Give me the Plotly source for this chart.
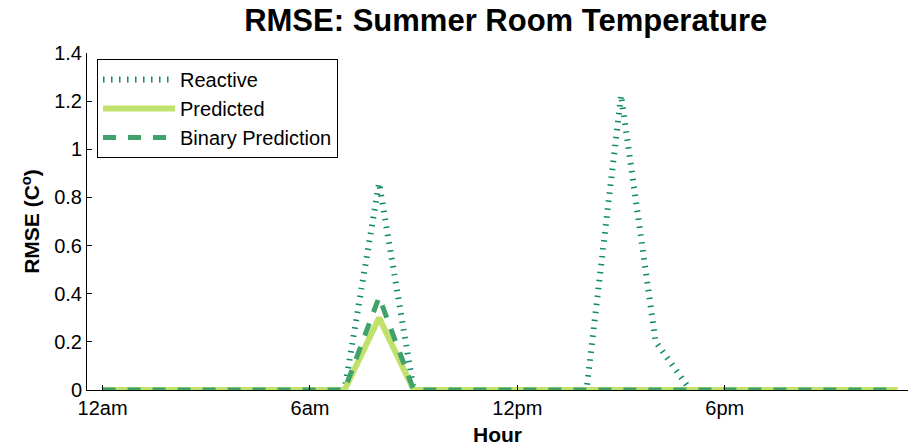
import plotly.graph_objects as go

hours = list(range(24))
tick_vals = [0, 6, 12, 18]
tick_text = ["12am", "6am", "12pm", "6pm"]

reactive = [0, 0, 0, 0, 0, 0, 0, 0, 0.86, 0, 0, 0, 0, 0, 0, 1.225, 0.20, 0, 0, 0, 0, 0, 0, 0]
predicted = [0, 0, 0, 0, 0, 0, 0, 0, 0.30, 0, 0, 0, 0, 0, 0, 0, 0, 0, 0, 0, 0, 0, 0, 0]
binary = [0, 0, 0, 0, 0, 0, 0, 0, 0.386, 0, 0, 0, 0, 0, 0, 0, 0, 0, 0, 0, 0, 0, 0, 0]

FONT = "Liberation Sans, Arial, Helvetica, sans-serif"

fig = go.Figure()
fig.add_trace(go.Scatter(x=hours, y=reactive, mode="lines", name="Reactive",
                         line=dict(color="#0f8a68", width=6, dash="1.5px,6.5px")))
fig.add_trace(go.Scatter(x=hours, y=predicted, mode="lines", name="Predicted",
                         line=dict(color="#c0e16b", width=6)))
fig.add_trace(go.Scatter(x=hours, y=binary, mode="lines", name="Binary Prediction",
                         line=dict(color="#3fa26a", width=5, dash="13px,12px")))

fig.update_layout(
    width=908, height=446,
    margin=dict(l=87, r=0, t=53, b=56),
    paper_bgcolor="white", plot_bgcolor="white",
    font=dict(family=FONT, size=20, color="black"),
    title=dict(text="<b>RMSE: Summer Room Temperature</b>", x=0.51, xref="paper",
               y=0.955, yref="container", yanchor="middle",
               font=dict(size=31, family=FONT, color="black")),
    showlegend=True,
    legend=dict(x=0.0122, y=0.982, xanchor="left", yanchor="top",
                bgcolor="white", bordercolor="black", borderwidth=1,
                font=dict(size=20, family=FONT), itemwidth=72,
                tracegroupgap=0),
    xaxis=dict(range=[-0.45, 23.3], tickmode="array", tickvals=tick_vals, ticktext=tick_text,
               showgrid=False, zeroline=False, showline=True, linecolor="black", linewidth=1,
               ticks="inside", ticklen=5, tickcolor="black", mirror=False,
               tickfont=dict(size=20, family=FONT),
               title=dict(text="<b>Hour</b>", font=dict(size=21, family=FONT), standoff=10)),
    yaxis=dict(range=[0, 1.4], tickmode="array",
               tickvals=[0, 0.2, 0.4, 0.6, 0.8, 1.0, 1.2, 1.4],
               ticktext=["0", "0.2", "0.4", "0.6", "0.8", "1", "1.2", "1.4"],
               showgrid=False, zeroline=False, showline=True, linecolor="black", linewidth=1,
               ticks="inside", ticklen=5, tickcolor="black", mirror=False,
               tickfont=dict(size=20, family=FONT),
               title=dict(text="<b>RMSE (C<sup>o</sup>)</b>", font=dict(size=21, family=FONT), standoff=8)),
)

fig.write_html("out.html")
